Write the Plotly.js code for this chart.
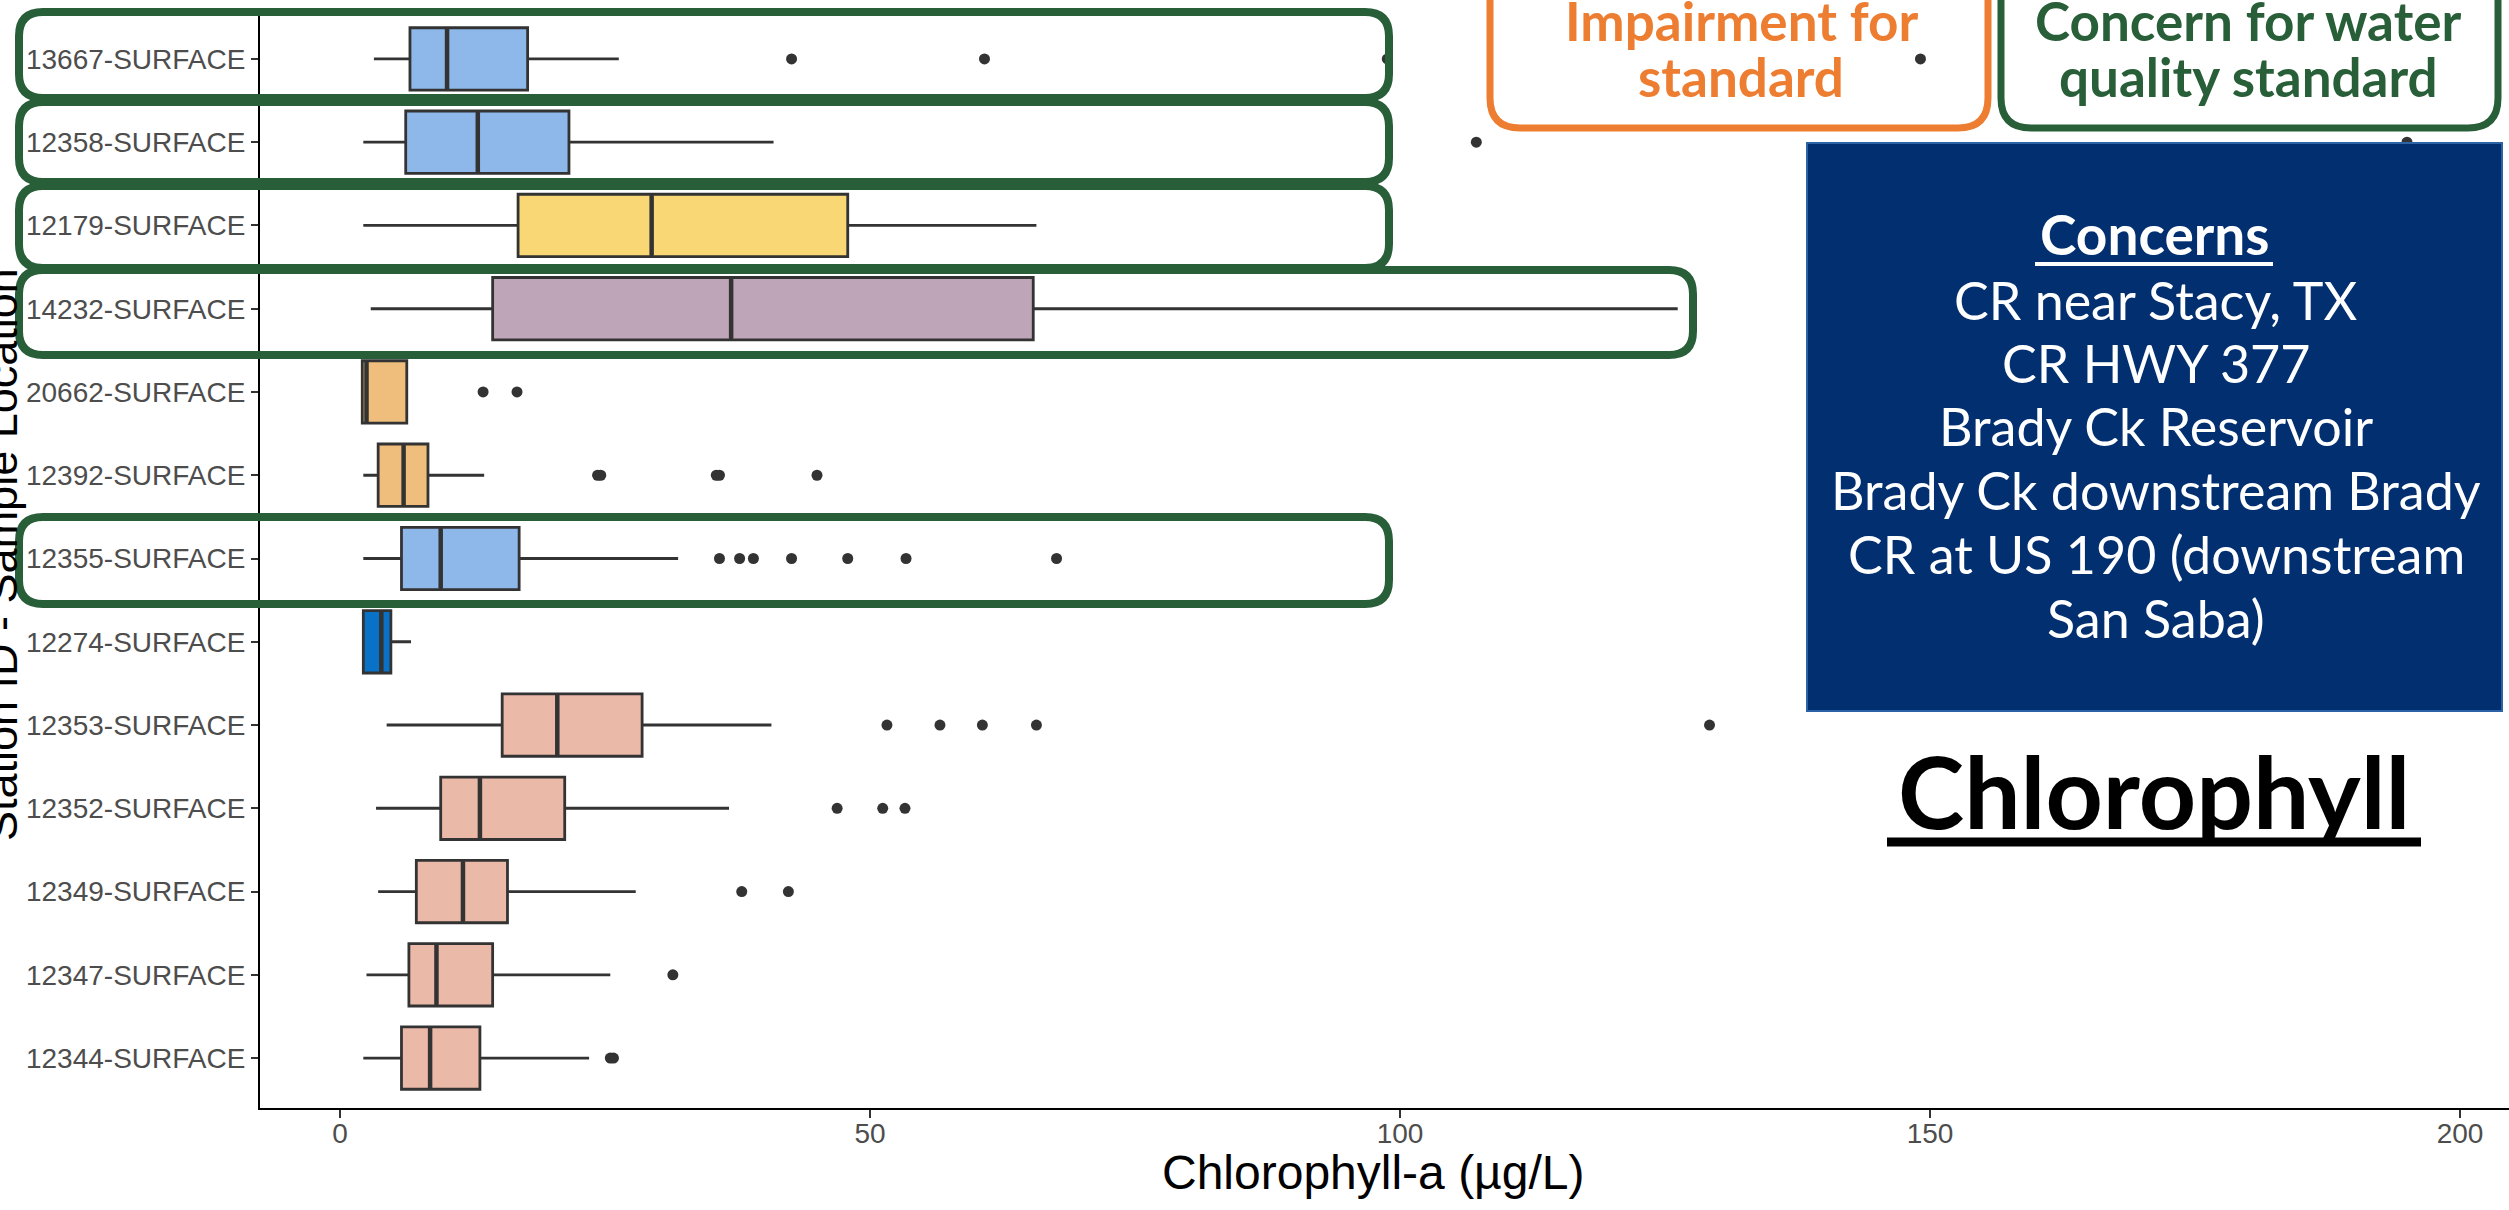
<!DOCTYPE html>
<html>
<head>
<meta charset="utf-8">
<script src="https://cdn.plot.ly/plotly-3.0.1.min.js"></script>
<style>html,body{margin:0;padding:0;background:#fff;}#chart{width:2509px;height:1210px;}</style>
</head>
<body>
<div id="chart"></div>
<script>
// ---------- DATA ----------
const stations = ['13667-SURFACE','12358-SURFACE','12179-SURFACE','14232-SURFACE','20662-SURFACE','12392-SURFACE','12355-SURFACE','12274-SURFACE','12353-SURFACE','12352-SURFACE','12349-SURFACE','12347-SURFACE','12344-SURFACE'];
const lowerWhisker = [3.2, 2.2, 2.2, 2.9, 2.1, 2.2, 2.2, 2.2, 4.4, 3.4, 3.6, 2.5, 2.2];
const q1           = [6.6, 6.2, 16.8, 14.4, 2.1, 3.6, 5.8, 2.2, 15.3, 9.5, 7.2, 6.5, 5.8];
const median       = [10.1, 13.0, 29.4, 36.9, 2.5, 6.0, 9.5, 3.9, 20.5, 13.2, 11.6, 9.1, 8.5];
const q3           = [17.7, 21.6, 47.9, 65.4, 6.3, 8.3, 16.9, 4.8, 28.5, 21.2, 15.8, 14.4, 13.2];
const upperWhisker = [26.3, 40.9, 65.7, 126.2, 6.3, 13.6, 31.9, 6.7, 40.7, 36.7, 27.9, 25.5, 23.5];

const outlierStation = [
  '13667-SURFACE','13667-SURFACE','13667-SURFACE','13667-SURFACE',
  '12358-SURFACE','12358-SURFACE',
  '20662-SURFACE','20662-SURFACE',
  '12392-SURFACE','12392-SURFACE','12392-SURFACE','12392-SURFACE','12392-SURFACE',
  '12355-SURFACE','12355-SURFACE','12355-SURFACE','12355-SURFACE','12355-SURFACE','12355-SURFACE','12355-SURFACE',
  '12353-SURFACE','12353-SURFACE','12353-SURFACE','12353-SURFACE','12353-SURFACE',
  '12352-SURFACE','12352-SURFACE','12352-SURFACE',
  '12349-SURFACE','12349-SURFACE',
  '12347-SURFACE',
  '12344-SURFACE','12344-SURFACE'
];
const outlierValue = [
  42.6, 60.8, 98.8, 149.1,
  107.2, 195.0,
  13.5, 16.7,
  24.3, 24.6, 35.5, 35.8, 45.0,
  35.8, 37.7, 39.0, 42.6, 47.9, 53.4, 67.6,
  51.6, 56.6, 60.6, 65.7, 129.2,
  46.9, 51.2, 53.3,
  37.9, 42.3,
  31.4,
  25.5, 25.8
];
const xTicks = [0, 50, 100, 150, 200];

// ---------- STYLE ----------
const fillByStation = {
  '13667-SURFACE':'#8DB8E9','12358-SURFACE':'#8DB8E9','12355-SURFACE':'#8DB8E9',
  '12179-SURFACE':'#F9D774','14232-SURFACE':'#BEA5B8',
  '20662-SURFACE':'#EFBE7C','12392-SURFACE':'#EFBE7C',
  '12274-SURFACE':'#0A72C6',
  '12353-SURFACE':'#EBB9A8','12352-SURFACE':'#EBB9A8','12349-SURFACE':'#EBB9A8','12347-SURFACE':'#EBB9A8','12344-SURFACE':'#EBB9A8'
};

const W = 2509, H = 1210, ML = 260, MR = 0, MT = 9, MB = 102;
const PW = W - ML - MR, PH = H - MT - MB;
const px = x => (x - ML) / PW;
const py = y => (H - MB - y) / PH;

function roundRect(x0, y0, x1, y1, r) {
  const P = (x, y) => px(x).toFixed(5) + ',' + py(y).toFixed(5);
  return 'M' + P(x0 + r, y0) + ' L' + P(x1 - r, y0) + ' Q' + P(x1, y0) + ' ' + P(x1, y0 + r) +
    ' L' + P(x1, y1 - r) + ' Q' + P(x1, y1) + ' ' + P(x1 - r, y1) +
    ' L' + P(x0 + r, y1) + ' Q' + P(x0, y1) + ' ' + P(x0, y1 - r) +
    ' L' + P(x0, y0 + r) + ' Q' + P(x0, y0) + ' ' + P(x0 + r, y0) + ' Z';
}

const traces = stations.map((s, i) => ({
  type: 'box', orientation: 'h',
  y: [s], q1: [q1[i]], median: [median[i]], q3: [q3[i]],
  lowerfence: [lowerWhisker[i]], upperfence: [upperWhisker[i]],
  fillcolor: fillByStation[s],
  line: {color: '#333333', width: 2.8},
  whiskerwidth: 0, boxpoints: false, width: 0.75,
  showlegend: false, hoverinfo: 'x'
}));
// thicker median bar (ggplot style), drawn from the median array
traces.push({
  type: 'scatter', mode: 'markers', x: median, y: stations,
  marker: {symbol: 'line-ns-open', size: 43, color: '#333333', line: {color: '#333333', width: 4.5}},
  showlegend: false, hoverinfo: 'x'
});
traces.push({
  type: 'scatter', mode: 'markers', x: outlierValue, y: outlierStation,
  marker: {color: '#333333', size: 11}, showlegend: false, hoverinfo: 'x'
});

const green = '#285E38', orange = '#ED7D31';
const shapes = [];
const gRows = [[12, 98], [102, 182], [186, 268], [270, 355], [517, 604]];
gRows.forEach((r, i) => {
  const right = (i === 3) ? 1693 : 1389;
  shapes.push({type: 'path', xref: 'paper', yref: 'paper', path: roundRect(19, r[0], right, r[1], 24),
    line: {color: green, width: 8}, fillcolor: 'rgba(0,0,0,0)', layer: 'above'});
});
shapes.push({type: 'path', xref: 'paper', yref: 'paper', path: roundRect(1490, -60, 1988, 128, 30),
  line: {color: orange, width: 7}, fillcolor: 'rgba(0,0,0,0)', layer: 'above'});
shapes.push({type: 'path', xref: 'paper', yref: 'paper', path: roundRect(2001, -60, 2498, 128, 30),
  line: {color: green, width: 7}, fillcolor: 'rgba(0,0,0,0)', layer: 'above'});
shapes.push({type: 'rect', xref: 'paper', yref: 'paper', x0: px(1807), x1: px(2502), y0: py(143), y1: py(711),
  fillcolor: '#022F70', line: {color: '#2C63A6', width: 2}, layer: 'above'});
shapes.push({type: 'line', xref: 'paper', yref: 'paper', x0: px(2035), x1: px(2273), y0: py(264), y1: py(264),
  line: {color: '#ffffff', width: 4}, layer: 'above'});
shapes.push({type: 'line', xref: 'paper', yref: 'paper', x0: px(1887), x1: px(2421), y0: py(842), y1: py(842),
  line: {color: '#000000', width: 9}, layer: 'above'});

const futura = 'Lato, "Noto Sans", sans-serif';
function ann(text, x, y, size, color, bold, extra) {
  return Object.assign({
    text: bold ? '<b>' + text + '</b>' : text, xref: 'paper', yref: 'paper', x: px(x), y: py(y),
    xanchor: 'center', yanchor: 'middle', showarrow: false,
    font: {family: futura, size: size, color: color}
  }, extra || {});
}
const annotations = [
  ann('Impairment for', 1741, 20, 53, orange, true),
  ann('standard', 1741, 77, 53, orange, true),
  ann('Concern for water', 2248, 20, 53, green, true),
  ann('quality standard', 2248, 77, 53, green, true),
  ann('Concerns', 2155, 234, 55, '#ffffff', true),
  ann('CR near Stacy, TX', 2156, 300, 52, '#ffffff', false),
  ann('CR HWY 377', 2156, 363, 52, '#ffffff', false),
  ann('Brady Ck Reservoir', 2156, 426, 52, '#ffffff', false),
  ann('Brady Ck downstream Brady', 2156, 490, 52, '#ffffff', false),
  ann('CR at US 190 (downstream', 2156, 554, 52, '#ffffff', false),
  ann('San Saba)', 2156, 618, 52, '#ffffff', false),
  ann('Chlorophyll', 2154, 790, 100, '#000000', true),
  {text: 'Chlorophyll-a (µg/L)', xref: 'paper', yref: 'paper', x: px(1373), y: py(1173),
   xanchor: 'center', yanchor: 'middle', showarrow: false,
   font: {family: '"Liberation Sans", Arial, sans-serif', size: 48, color: '#000000'}},
  {text: 'Station ID - Sample Location', xref: 'paper', yref: 'paper', x: px(1), y: py(555),
   xanchor: 'center', yanchor: 'middle', showarrow: false, textangle: -90,
   font: {family: '"Liberation Sans", Arial, sans-serif', size: 45, color: '#000000'}}
];

const layout = {
  width: W, height: H,
  margin: {l: ML, r: MR, t: MT, b: MB, pad: 0},
  paper_bgcolor: '#ffffff', plot_bgcolor: '#ffffff',
  showlegend: false, boxmode: 'overlay',
  font: {family: '"Liberation Sans", Arial, sans-serif'},
  xaxis: {
    range: [-80 / 10.6, (W - 340) / 10.6], tickvals: xTicks, ticktext: xTicks.map(String),
    showgrid: false, zeroline: false, showline: true, linecolor: '#000000', linewidth: 2,
    ticks: 'outside', ticklen: 8, tickwidth: 2, tickcolor: '#333333',
    ticklabelstandoff: -9,
    tickfont: {size: 28, color: '#4D4D4D'}
  },
  yaxis: {
    type: 'category', categoryorder: 'array', categoryarray: stations.slice().reverse(),
    range: [-0.6, 12.6],
    showgrid: false, zeroline: false, showline: true, linecolor: '#000000', linewidth: 2,
    ticks: 'outside', ticklen: 7, tickwidth: 2, tickcolor: '#333333',
    tickfont: {size: 28, color: '#4D4D4D'}
  },
  shapes: shapes,
  annotations: annotations
};

Plotly.newPlot('chart', traces, layout, {staticPlot: true});
</script>
</body>
</html>
